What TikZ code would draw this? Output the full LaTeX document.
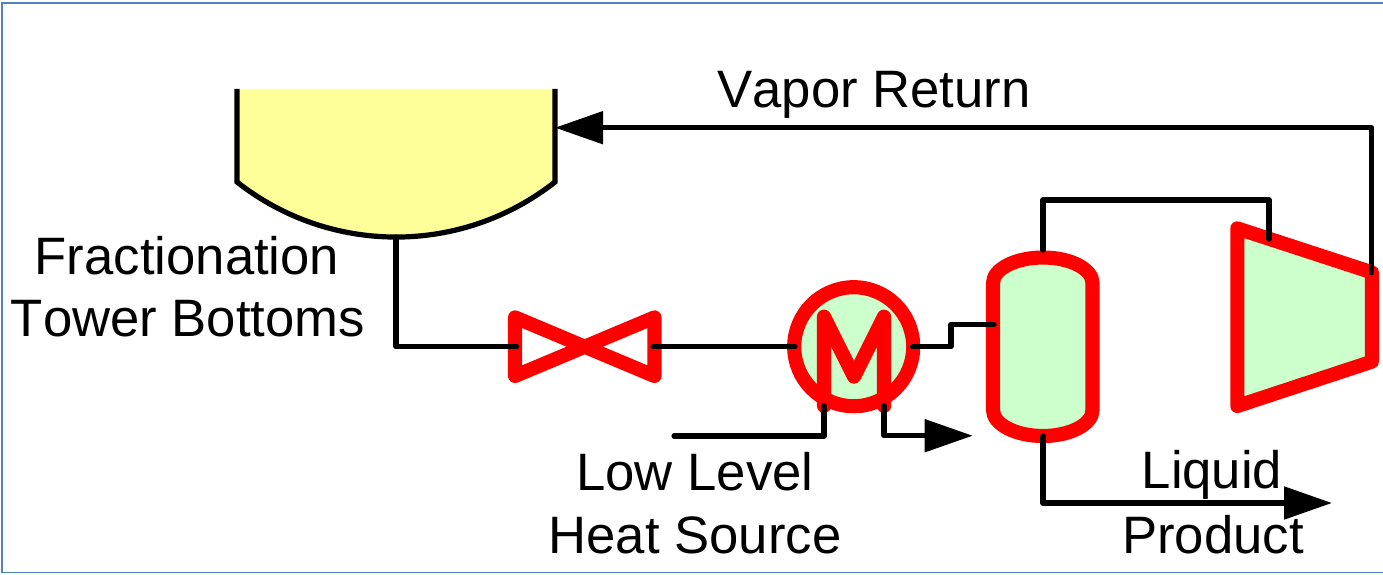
\documentclass[tikz,border=0pt]{standalone}
\usepackage{fontspec}
\setmainfont[Kerning=Off]{Liberation Sans}
\usetikzlibrary{arrows.meta}
\definecolor{framecol}{HTML}{4F81BD}
\definecolor{towerfill}{HTML}{FFFF99}
\definecolor{unitfill}{HTML}{CCFFCC}
\tikzset{
  pipe/.style={draw=black,line width=3.9pt,line cap=round,line join=round},
  pipearrow/.style={pipe,-{Triangle[length=36pt,width=24pt]}},
  equip/.style={draw=red,line width=10.6pt,line join=round,line cap=round},
  towerline/.style={draw=black,line width=3.9pt,line join=miter},
  lab/.style={font=\fontsize{39.5}{47}\selectfont,inner sep=0pt,align=center}
}
\begin{document}
\begin{tikzpicture}[x=0.75pt,y=-0.75pt]
\useasboundingbox (0,0) rectangle (1383,574);
\fill[white] (0,0) rectangle (1383,574);
\draw[framecol,line width=1.6pt] (1.8,572.8) -- (1.8,2.8) -- (1383,2.8);
\draw[framecol,line width=1pt] (1.8,572.8) -- (1383,572.8);
% tower
\fill[towerfill] (237,89) -- (237,182) .. controls (330.3,255.4) and (461.7,255.4) .. (555,182) -- (555,89) -- cycle;
\draw[towerline] (237,89) -- (237,182) .. controls (330.3,255.4) and (461.7,255.4) .. (555,182) -- (555,89);
% valve
\draw[equip,fill=white] (515,317.4) -- (654.5,376) -- (654.5,317.4) -- (515,376) -- cycle;
% heater
\draw[equip,fill=unitfill] (853.7,346.7) circle [radius=59.5];
\draw[equip] (824,406) -- (824,316.7) -- (854,376.7) -- (884,316.7) -- (884,406);
% separator
\draw[equip,fill=unitfill] (993,283) .. controls (993,269) and (1015.5,257.5) .. (1043,257.5)
  .. controls (1070.5,257.5) and (1092.5,269) .. (1092.5,283) -- (1092.5,410)
  .. controls (1092.5,424.3) and (1070.5,436) .. (1043,436)
  .. controls (1015.5,436) and (993,424.3) .. (993,410) -- cycle;
% compressor
\draw[equip,fill=unitfill] (1237.3,228.4) -- (1372,272.4) -- (1372,361.6) -- (1237.3,406) -- cycle;
% ports
\coordinate (towerout) at (396,237);
\coordinate (towerin) at (555,127.7);
\coordinate (valvein) at (516.7,346.7);
\coordinate (valveout) at (653,346.7);
\coordinate (hxin) at (795,346.7);
\coordinate (hxout) at (912.7,346.7);
\coordinate (sepin) at (994,324.3);
\coordinate (septop) at (1043,250);
\coordinate (sepbot) at (1043,436);
\coordinate (compin) at (1269,239);
\coordinate (compout) at (1371.7,272.7);
\coordinate (srcin) at (674,436);
\coordinate (srctube) at (824,405.7);
\coordinate (srcout) at (884,405.7);
\coordinate (srcend) at (972.7,435.7);
\coordinate (liqend) at (1332,503);
% connectors
\draw[pipe] (towerout) |- (valvein);
\draw[pipe] (valveout) -- (hxin);
\draw[pipe] (hxout) -- (951,346.7) -- (951,324.3) -- (sepin);
\draw[pipe] (septop) -- (1043,200) -| (compin);
\draw[pipearrow] (compout) |- (towerin);
\draw[pipe] (srcin) -| (srctube);
\draw[pipearrow] (srcout) |- (srcend);
% labels
\node[lab] (fract) at (187,256) {Fractionation};
\node[lab] (bottoms) at (188,319) {Tower Bottoms};
\node[lab] (vapor) at (874,95) {Vapor Return};
\node[lab] (low) at (695,472) {Low Level};
\node[lab] (heat) at (695,535) {Heat Source};
\node[lab] (liquid) at (1212,475) {Liquid};
\node[lab] (product) at (1213,535) {Product};
\draw[pipearrow] (sepbot) |- (liqend);
\end{tikzpicture}
\end{document}
